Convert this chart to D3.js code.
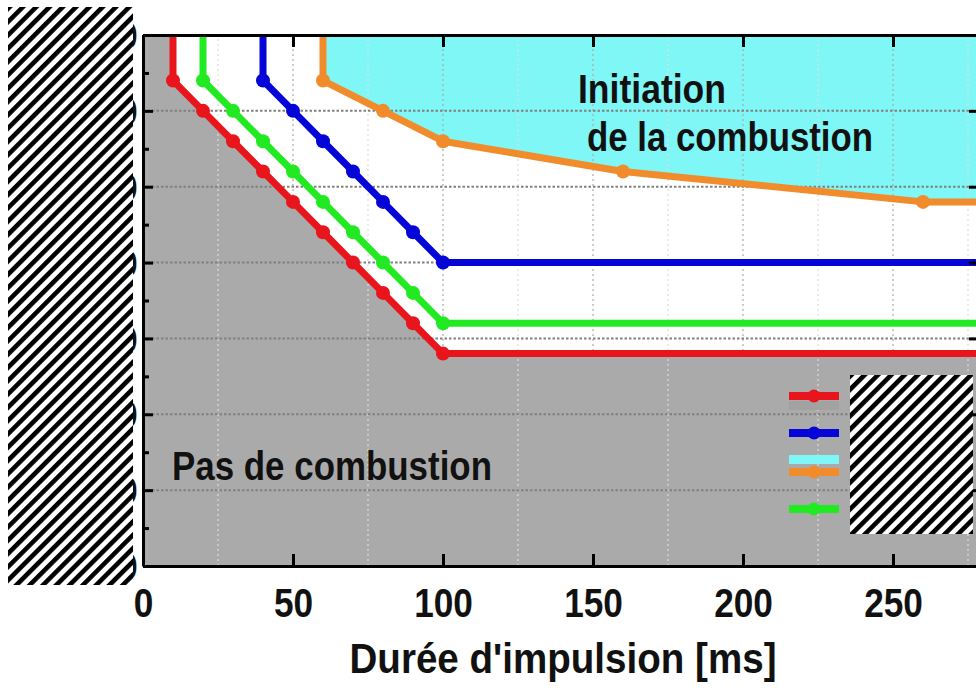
<!DOCTYPE html>
<meta charset="utf-8">
<style>
body { margin: 0; background: #fff; }
text { font-family: "Liberation Sans", Arial, sans-serif; font-weight: bold; fill: #111; }
.axis path, .axis line { stroke: #000; stroke-width: 3; fill: none; }
</style>
<body>
<div id="chart"></div>
<script src="https://cdn.jsdelivr.net/npm/d3@7/dist/d3.min.js"></script>
<script>

// durée d'impulsion [ms] et seuil (l'axe y est masqué dans l'original)
var xMax = 278;
var redMs = [10, 10, 20, 30, 40, 50, 60, 70, 80, 90, 100, xMax];
var redVal = [7, 6.4, 6.0, 5.6, 5.2, 4.8, 4.4, 4.0, 3.6, 3.2, 2.8, 2.8];
var greenMs = [20, 20, 30, 40, 50, 60, 70, 80, 90, 100, xMax];
var greenVal = [7, 6.4, 6.0, 5.6, 5.2, 4.8, 4.4, 4.0, 3.6, 3.2, 3.2];
var blueMs = [40, 40, 50, 60, 70, 80, 90, 100, xMax];
var blueVal = [7, 6.4, 6.0, 5.6, 5.2, 4.8, 4.4, 4.0, 4.0];
var orangeMs = [60, 60, 80, 100, 160, 260, xMax];
var orangeVal = [7, 6.4, 6.0, 5.6, 5.2, 4.8, 4.8];

var xTicks = [0, 50, 100, 150, 200, 250];
var xGrid = [25, 50, 75, 100, 125, 150, 175, 200, 225, 250, 275];
var yTicks = [0, 1, 2, 3, 4, 5, 6, 7];
var yMinor = [0.5, 1.5, 2.5, 3.5, 4.5, 5.5, 6.5];

var colors = {red: '#e8161c', green: '#22ea22', blue: '#0505d8', orange: '#f08c2c', gray: '#aaaaaa', cyan: '#80f7f7'};

var zip = function(xs, ys) { return xs.map(function(d, i) { return [d, ys[i]]; }); };
var series = [
  {name: 'red', pts: zip(redMs, redVal)},
  {name: 'green', pts: zip(greenMs, greenVal)},
  {name: 'blue', pts: zip(blueMs, blueVal)},
  {name: 'orange', pts: zip(orangeMs, orangeVal)}
];

var W = 976, H = 688;
var x = d3.scaleLinear().domain([0, xMax]).range([143, 977]);
var y = d3.scaleLinear().domain([0, 7]).range([566, 35]);

var svg = d3.select('#chart').append('svg')
  .attr('width', W).attr('height', H);

svg.append('rect').attr('width', W).attr('height', H).attr('fill', '#fff');

var defs = svg.append('defs');
defs.append('clipPath').attr('id', 'plot')
  .append('rect').attr('x', x(0)).attr('y', y(7)).attr('width', x(xMax) - x(0)).attr('height', y(0) - y(7));

var hatch = defs.append('pattern').attr('id', 'hatch')
  .attr('patternUnits', 'userSpaceOnUse')
  .attr('width', 9.4).attr('height', 9.4)
  .attr('patternTransform', 'rotate(45)');
hatch.append('rect').attr('width', 9.4).attr('height', 9.4).attr('fill', '#fff');
hatch.append('rect').attr('width', 4.6).attr('height', 9.4).attr('fill', '#000');

var line = d3.line().x(function(d) { return x(d[0]); }).y(function(d) { return y(d[1]); });

var plot = svg.append('g').attr('clip-path', 'url(#plot)');

// zones
var grayPoly = [[0, 7]].concat(series[0].pts, [[xMax, 0], [0, 0]]);
plot.append('path').attr('d', line(grayPoly) + 'Z').attr('fill', colors.gray);
var cyanPoly = series[3].pts.concat([[xMax, 7]]);
plot.append('path').attr('d', line(cyanPoly) + 'Z').attr('fill', colors.cyan);

// grille
plot.selectAll('.vgrid').data(xGrid).enter().append('line')
  .attr('x1', function(d) { return x(d); }).attr('x2', function(d) { return x(d); })
  .attr('y1', y(0)).attr('y2', y(7))
  .attr('stroke', function(d) { return d % 50 === 0 ? '#aaa' : '#ddd'; })
  .attr('stroke-width', 1.2)
  .attr('stroke-dasharray', '2,3');
plot.selectAll('.hgrid').data(yTicks.slice(1, -1)).enter().append('line')
  .attr('x1', x(0)).attr('x2', x(xMax))
  .attr('y1', function(d) { return y(d); }).attr('y2', function(d) { return y(d); })
  .attr('stroke', '#808080')
  .attr('stroke-width', 2)
  .attr('stroke-dasharray', '2.5,2');

// courbes
series.forEach(function(s) {
  plot.append('path').attr('d', line(s.pts))
    .attr('fill', 'none').attr('stroke', colors[s.name])
    .attr('stroke-width', 7).attr('stroke-linejoin', 'round');
  plot.selectAll('.m-' + s.name).data(s.pts.slice(1, -1)).enter().append('circle')
    .attr('cx', function(d) { return x(d[0]); })
    .attr('cy', function(d) { return y(d[1]); })
    .attr('r', 7)
    .attr('fill', colors[s.name]);
});

// axes
var bottom = svg.append('g').attr('class', 'axis')
  .attr('transform', 'translate(0,' + y(0) + ')')
  .call(d3.axisBottom(x).tickValues(xTicks).tickSize(-12).tickSizeOuter(0));
bottom.selectAll('text')
  .attr('y', 51).attr('dy', 0)
  .attr('transform', 'scale(0.88,1)')
  .style('font-size', '40px').style('fill', '#111');

svg.append('g').attr('class', 'axis')
  .attr('transform', 'translate(0,' + y(7) + ')')
  .call(d3.axisTop(x).tickValues(xTicks).tickSize(-12).tickSizeOuter(0).tickFormat(''));

var left = svg.append('g').attr('class', 'axis')
  .attr('transform', 'translate(' + x(0) + ',0)')
  .call(d3.axisLeft(y).tickValues(yTicks).tickSize(-10).tickSizeOuter(0).tickPadding(5));
left.selectAll('text').style('font-size', '38px').attr('dy', '0.36em');
svg.append('g').attr('class', 'axis')
  .attr('transform', 'translate(' + x(0) + ',0)')
  .call(d3.axisLeft(y).tickValues(yMinor).tickSize(-6).tickFormat(''))
  .select('.domain').remove();

svg.append('g').attr('class', 'axis')
  .attr('transform', 'translate(' + x(xMax) + ',0)')
  .call(d3.axisRight(y).tickValues(yTicks).tickSize(-8).tickSizeOuter(0).tickFormat(''));

// textes
svg.append('text').attr('x', 563).attr('y', 673)
  .attr('text-anchor', 'middle').style('font-size', '43px')
  .attr('textLength', 427).attr('lengthAdjust', 'spacingAndGlyphs')
  .text("Durée d'impulsion [ms]");

svg.append('text').attr('x', 578).attr('y', 103)
  .style('font-size', '41px')
  .attr('textLength', 148).attr('lengthAdjust', 'spacingAndGlyphs')
  .text('Initiation');
svg.append('text').attr('x', 587).attr('y', 151)
  .style('font-size', '41px')
  .attr('textLength', 286).attr('lengthAdjust', 'spacingAndGlyphs')
  .text('de la combustion');
svg.append('text').attr('x', 172).attr('y', 480)
  .style('font-size', '40px')
  .attr('textLength', 320).attr('lengthAdjust', 'spacingAndGlyphs')
  .text('Pas de combustion');

// légende
var legendItems = [
  {c: 'red', y: 396, patch: 'gray', py: 401},
  {c: 'blue', y: 433},
  {c: 'orange', y: 472, patch: 'cyan', py: 455},
  {c: 'green', y: 509}
];
var lg = svg.append('g');
legendItems.forEach(function(d) {
  if (d.patch) {
    lg.append('rect').attr('x', 789).attr('y', d.py).attr('width', 50).attr('height', 9)
      .attr('fill', d.patch === 'gray' ? '#a2a2a2' : colors.cyan);
  }
  lg.append('line').attr('x1', 789).attr('x2', 839).attr('y1', d.y).attr('y2', d.y)
    .attr('stroke', colors[d.c]).attr('stroke-width', 8);
  lg.append('circle').attr('cx', 814).attr('cy', d.y).attr('r', 6.5).attr('fill', colors[d.c]);
});

// zones masquées
svg.append('rect').attr('x', 8).attr('y', 7).attr('width', 125).attr('height', 578).attr('fill', 'url(#hatch)');
svg.append('rect').attr('x', 850).attr('y', 375).attr('width', 123).attr('height', 159).attr('fill', 'url(#hatch)');

</script>
</body>
